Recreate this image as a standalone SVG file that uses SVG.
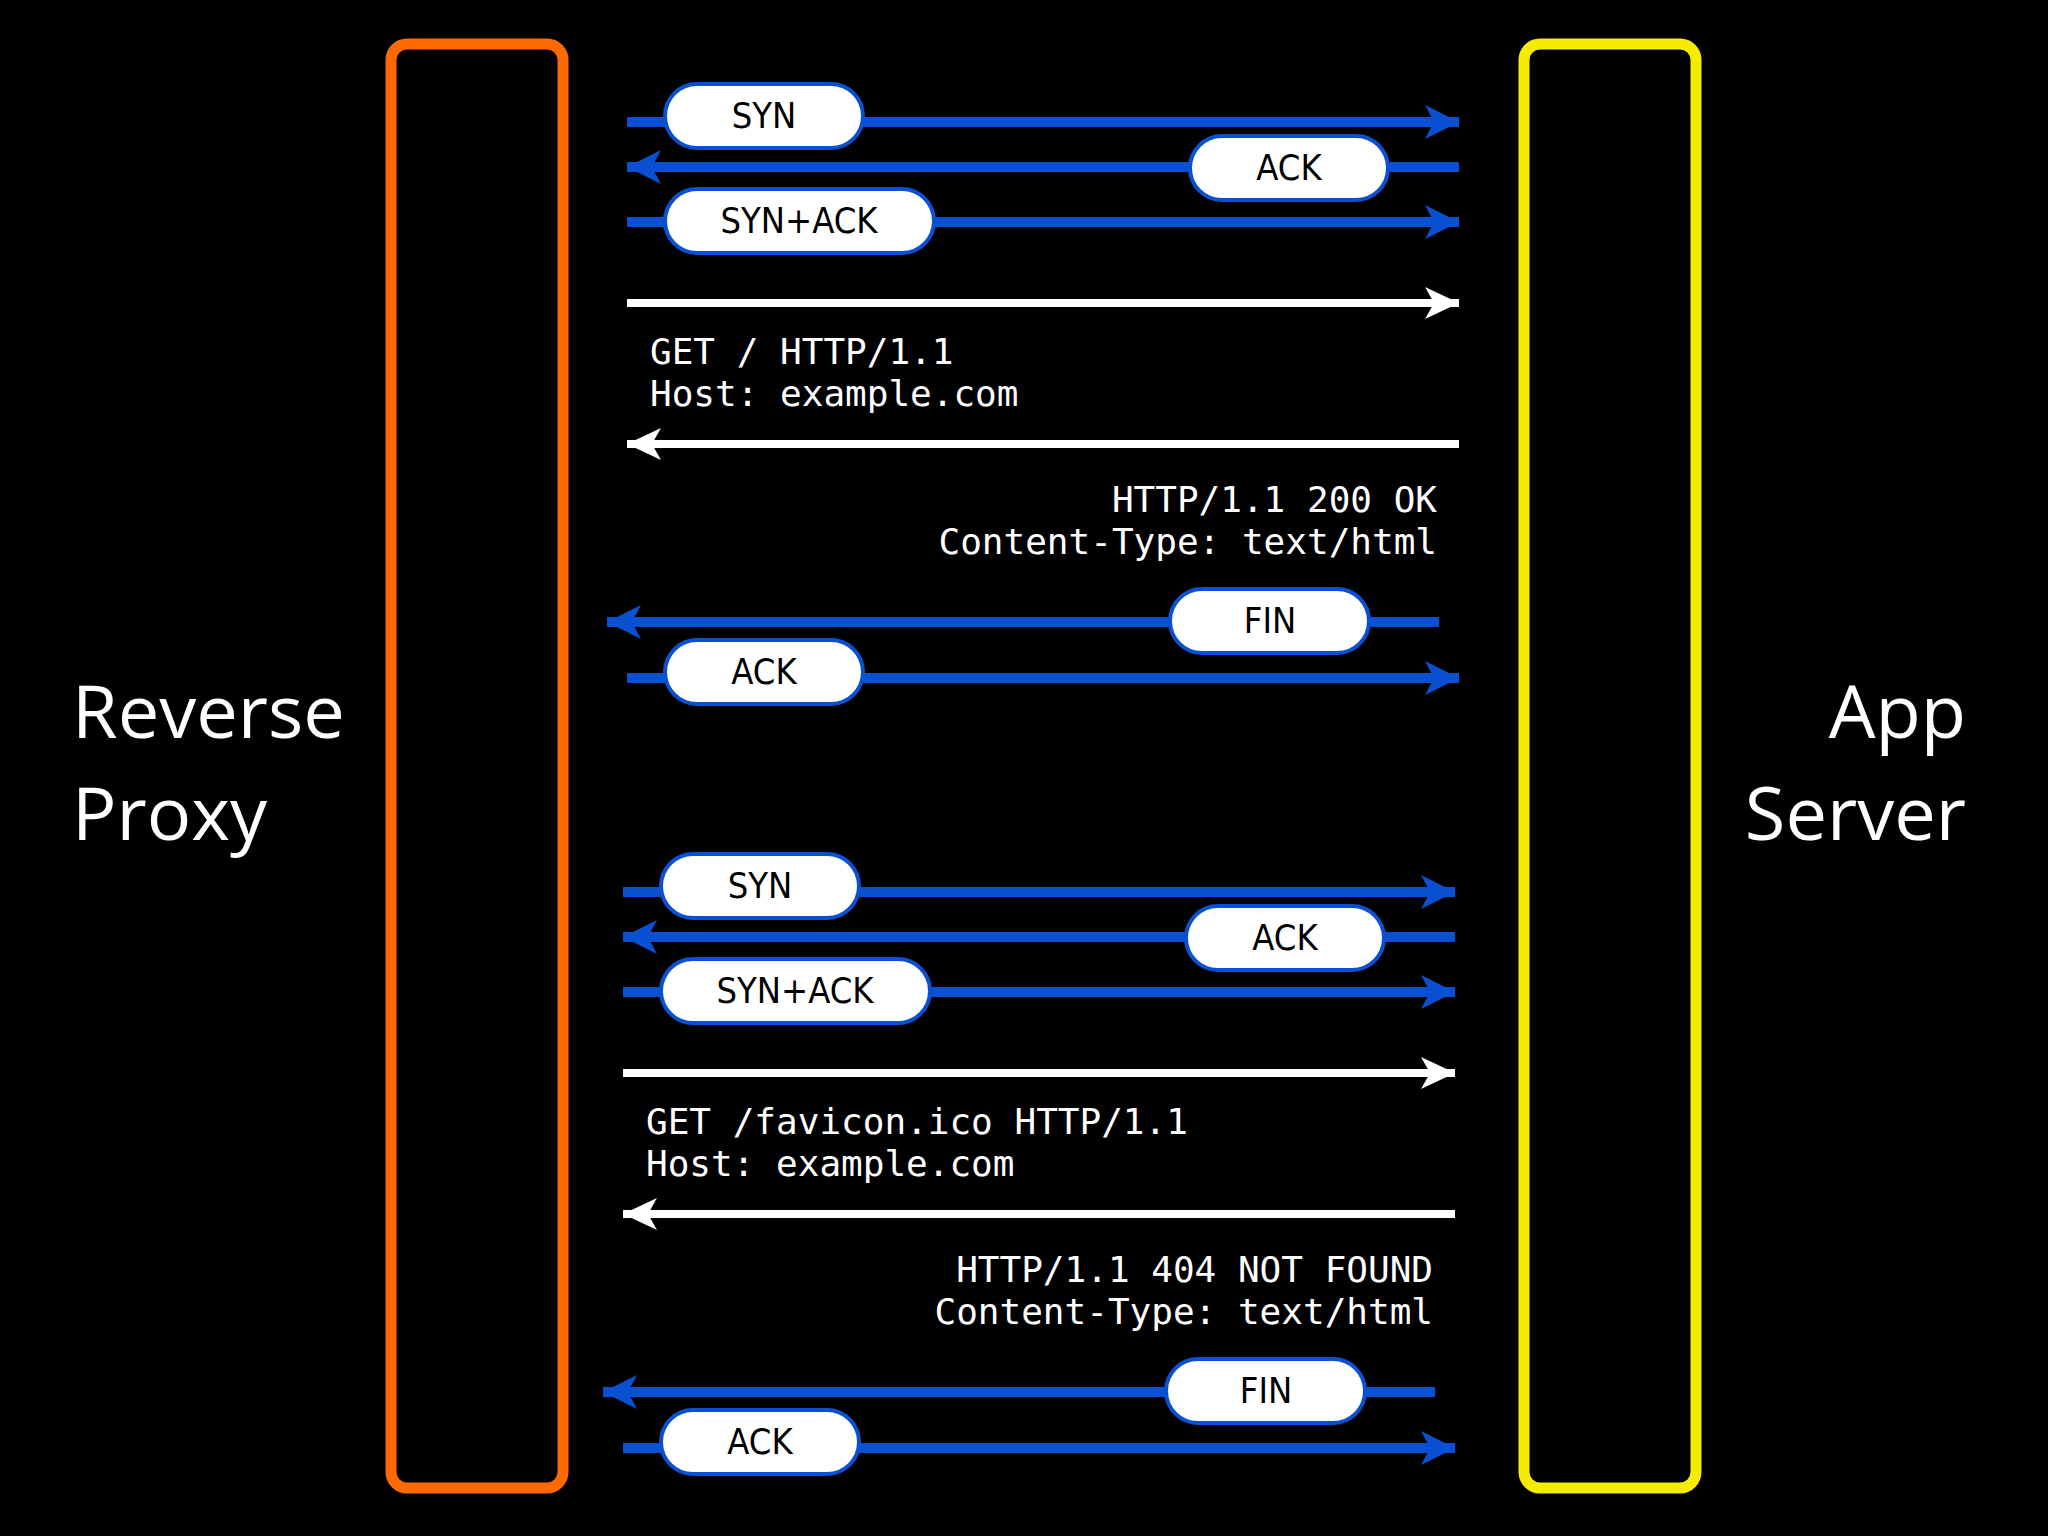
<svg xmlns="http://www.w3.org/2000/svg" width="2048" height="1536" viewBox="0 0 2048 1536">
<style>
.b{stroke:#0a50d2;stroke-width:10;fill:none}
.w{stroke:#fff;stroke-width:8;fill:none}
.pill{fill:#fff;stroke:#0a50d2;stroke-width:4}
.pl{font-family:"DejaVu Sans","Open Sans",sans-serif;font-stretch:condensed;font-size:36px;fill:#000;text-anchor:middle}
.m{font-family:"DejaVu Sans Mono",monospace;font-size:36px;fill:#fff}
.big{font-family:"Open Sans","Liberation Sans",sans-serif;font-size:74px;fill:#fff}
</style>
<defs>
<marker id="ab" markerUnits="userSpaceOnUse" markerWidth="40" markerHeight="40" refX="34" refY="20" orient="auto"><path d="M0,3 L34,20 L0,37 L9,20 Z" fill="#0a50d2"/></marker>
<marker id="aw" markerUnits="userSpaceOnUse" markerWidth="40" markerHeight="40" refX="34" refY="20" orient="auto"><path d="M0,4 L34,20 L0,36 L9,20 Z" fill="#fff"/></marker>
</defs>
<rect width="2048" height="1536" fill="#000"/>
<g id="proxy"><rect x="391" y="44" width="172" height="1444" rx="16" fill="none" stroke="#ff6a00" stroke-width="11"/>
<text class="big" x="72" y="738">Reverse</text><text class="big" x="72" y="840">Proxy</text></g>
<g id="server"><rect x="1524" y="44" width="172" height="1444" rx="16" fill="none" stroke="#f5ec00" stroke-width="11"/>
<text class="big" x="1966" y="738" text-anchor="end">App</text><text class="big" x="1966" y="840" text-anchor="end">Server</text></g>
<g id="connectors">
<g id="conn1">
<line class="b" x1="627" y1="122" x2="1459" y2="122" marker-end="url(#ab)"/>
<line class="b" x1="1459" y1="167" x2="627" y2="167" marker-end="url(#ab)"/>
<line class="b" x1="627" y1="222" x2="1459" y2="222" marker-end="url(#ab)"/>
<line class="w" x1="627" y1="303" x2="1459" y2="303" marker-end="url(#aw)"/>
<line class="w" x1="1459" y1="444" x2="627" y2="444" marker-end="url(#aw)"/>
<line class="b" x1="1439" y1="622" x2="607" y2="622" marker-end="url(#ab)"/>
<line class="b" x1="627" y1="678" x2="1459" y2="678" marker-end="url(#ab)"/>
</g>
<g id="conn2" transform="translate(-4,770)">
<line class="b" x1="627" y1="122" x2="1459" y2="122" marker-end="url(#ab)"/>
<line class="b" x1="1459" y1="167" x2="627" y2="167" marker-end="url(#ab)"/>
<line class="b" x1="627" y1="222" x2="1459" y2="222" marker-end="url(#ab)"/>
<line class="w" x1="627" y1="303" x2="1459" y2="303" marker-end="url(#aw)"/>
<line class="w" x1="1459" y1="444" x2="627" y2="444" marker-end="url(#aw)"/>
<line class="b" x1="1439" y1="622" x2="607" y2="622" marker-end="url(#ab)"/>
<line class="b" x1="627" y1="678" x2="1459" y2="678" marker-end="url(#ab)"/>
</g>
</g>
<g id="labels1">
<g id="syn1"><rect class="pill" x="665" y="84" width="198" height="64" rx="32"/><text class="pl" x="764" y="128">SYN</text></g>
<g id="ack1"><rect class="pill" x="1190" y="136" width="198" height="64" rx="32"/><text class="pl" x="1289" y="180">ACK</text></g>
<g id="synack1"><rect class="pill" x="665" y="189" width="269" height="64" rx="32"/><text class="pl" x="799" y="233">SYN+ACK</text></g>
<text class="m" x="650" y="364">GET / HTTP/1.1</text><text class="m" x="650" y="406">Host: example.com</text>
<text class="m" x="1437" y="512" text-anchor="end">HTTP/1.1 200 OK</text><text class="m" x="1437" y="554" text-anchor="end">Content-Type: text/html</text>
<g id="fin1"><rect class="pill" x="1170" y="589" width="199" height="64" rx="32"/><text class="pl" x="1270" y="633">FIN</text></g>
<g id="ack2"><rect class="pill" x="665" y="640" width="198" height="64" rx="32"/><text class="pl" x="764" y="684">ACK</text></g>
</g>
<g id="labels2" transform="translate(-4,770)">
<g id="syn2"><rect class="pill" x="665" y="84" width="198" height="64" rx="32"/><text class="pl" x="764" y="128">SYN</text></g>
<g id="ack3"><rect class="pill" x="1190" y="136" width="198" height="64" rx="32"/><text class="pl" x="1289" y="180">ACK</text></g>
<g id="synack2"><rect class="pill" x="665" y="189" width="269" height="64" rx="32"/><text class="pl" x="799" y="233">SYN+ACK</text></g>
<text class="m" x="650" y="364">GET /favicon.ico HTTP/1.1</text><text class="m" x="650" y="406">Host: example.com</text>
<text class="m" x="1437" y="512" text-anchor="end">HTTP/1.1 404 NOT FOUND</text><text class="m" x="1437" y="554" text-anchor="end">Content-Type: text/html</text>
<g id="fin2"><rect class="pill" x="1170" y="589" width="199" height="64" rx="32"/><text class="pl" x="1270" y="633">FIN</text></g>
<g id="ack4"><rect class="pill" x="665" y="640" width="198" height="64" rx="32"/><text class="pl" x="764" y="684">ACK</text></g>
</g>
</svg>
